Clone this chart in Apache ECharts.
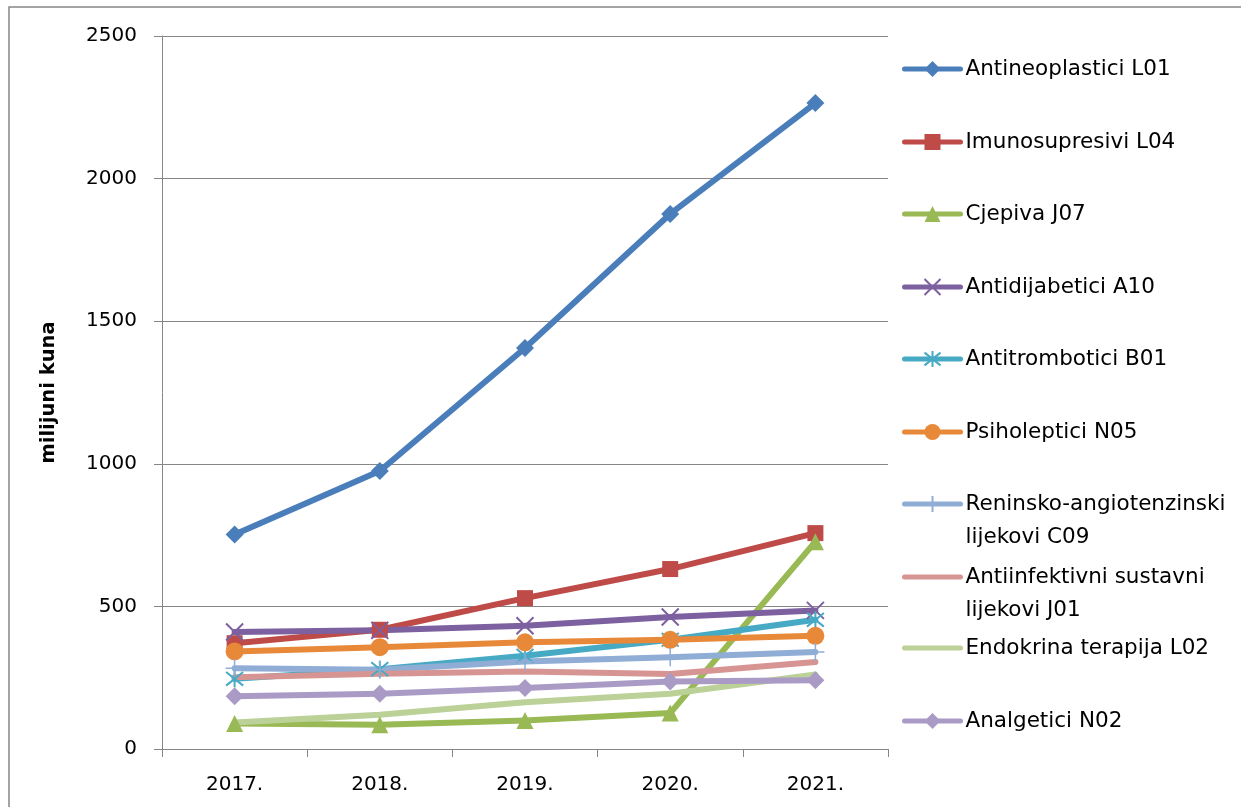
<!DOCTYPE html>
<html>
<head>
<meta charset="utf-8">
<script src="https://cdn.jsdelivr.net/npm/echarts@6/dist/echarts.min.js"></script>
<style>
  html, body { margin: 0; padding: 0; background: #fff; }
  #chart { width: 1241px; height: 807px; }
</style>
</head>
<body>
<div id="chart"></div>
<script>
// godine (x os)
const years = ['2017.', '2018.', '2019.', '2020.', '2021.'];

// vrijednosti u milijunima kuna, očitane s grafa
const antineoplastici = [752, 975, 1406, 1876, 2265];
const imunosupresivi = [371, 418, 529, 631, 757];
const cjepiva = [89, 85, 100, 126, 727];
const antidijabetici = [410, 416, 432, 463, 486];
const antitrombotici = [246, 280, 327, 383, 453];
const psiholeptici = [342, 357, 374, 383, 397];
const reninsko = [283, 278, 307, 322, 340];
const antiinfektivni = [252, 264, 272, 263, 305];
const endokrina = [93, 120, 164, 194, 261];
const analgetici = [185, 194, 214, 237, 241];

const yTicks = [0, 500, 1000, 1500, 2000, 2500];

const names = [
    'Antineoplastici L01',
    'Imunosupresivi L04',
    'Cjepiva J07',
    'Antidijabetici A10',
    'Antitrombotici B01',
    'Psiholeptici N05',
    'Reninsko-angiotenzinski lijekovi C09',
    'Antiinfektivni sustavni lijekovi J01',
    'Endokrina terapija L02',
    'Analgetici N02'
];
const values = [antineoplastici, imunosupresivi, cjepiva, antidijabetici, antitrombotici,
    psiholeptici, reninsko, antiinfektivni, endokrina, analgetici];

const colors = ['#4A7EBB', '#BE4B48', '#98B954', '#7D60A0', '#46AAC5',
    '#E8893A', '#90ADD6', '#D69593', '#BBD198', '#AA9BC6'];

const X_PATH = 'path://M0,0L10,10M10,0L0,10';
const STAR_PATH = 'path://M1,1L9,9M9,1L1,9M5,0L5,10';
const PLUS_PATH = 'path://M5,0L5,10M0,5L10,5';
const symbols = ['diamond', 'rect', 'triangle', X_PATH, STAR_PATH, 'circle', PLUS_PATH, 'none', 'none', 'diamond'];
const symbolSizes = [18, 16, 17, 17, 17, 18, 18, 0, 0, 18];
const strokeW = [0, 0, 0, 2, 2, 0, 1.5, 0, 0, 0];

const FONT = 'DejaVu Sans';

// legenda: svaka stavka zasebno, kao u Excelu
const legendCenters = [69, 142, 214, 287, 359, 432, 504, 577, 648, 721];
// prazni prvi red da prvi red teksta stoji uz ikonu
const legendText = {
    6: ' \nReninsko-angiotenzinski\nlijekovi C09',
    7: ' \nAntiinfektivni sustavni\nlijekovi J01'
};

const legends = names.map((n, i) => {
    const twoLines = legendText[i] != null;
    const noSymbol = symbols[i] === 'none';
    return {
        data: [n],
        left: 902,
        top: twoLines ? legendCenters[i] - 49.5 : legendCenters[i] - 12,
        padding: 0,
        itemWidth: 56,
        itemHeight: 20,
        selectedMode: false,
        formatter: twoLines ? legendText[i] : '{name}',
        lineStyle: { width: 5, cap: 'round' },
        itemStyle: noSymbol ? { opacity: 0 } : {},
        textStyle: {
            fontFamily: FONT,
            fontSize: 21.5,
            color: '#000',
            lineHeight: twoLines ? 33 : 24
        }
    };
});

const series = names.map((n, i) => ({
    name: n,
    type: 'line',
    data: values[i],
    symbol: symbols[i],
    symbolSize: symbolSizes[i],
    showSymbol: symbols[i] !== 'none',
    lineStyle: { color: colors[i], width: 6, cap: 'round', join: 'round' },
    itemStyle: {
        color: colors[i],
        borderColor: colors[i],
        borderWidth: strokeW[i]
    },
    emphasis: { disabled: true }
}));

const chart = echarts.init(document.getElementById('chart'));
chart.setOption({
    animation: false,
    backgroundColor: '#fff',
    graphic: [{
        type: 'rect',
        silent: true,
        shape: { x: 9, y: 7, width: 1300, height: 900 },
        style: { fill: 'transparent', stroke: '#868686', lineWidth: 1.5 }
    }],
    grid: { left: 162, top: 36, right: 353, bottom: 58 },
    legend: legends,
    xAxis: {
        type: 'category',
        data: years,
        boundaryGap: true,
        axisLine: { lineStyle: { color: '#868686', width: 1 } },
        axisTick: { show: true, length: 8, interval: 0, lineStyle: { color: '#868686' } },
        axisLabel: { fontFamily: FONT, fontSize: 20, color: '#000', margin: 26 }
    },
    yAxis: {
        type: 'value',
        min: yTicks[0],
        max: yTicks[yTicks.length - 1],
        interval: yTicks[1] - yTicks[0],
        name: 'milijuni kuna',
        nameLocation: 'middle',
        nameGap: 103,
        nameTextStyle: { fontFamily: FONT, fontSize: 19.5, fontWeight: 'bold', color: '#000' },
        axisLine: { show: true, lineStyle: { color: '#868686', width: 1 } },
        axisTick: { show: true, length: 8, lineStyle: { color: '#868686' } },
        splitLine: { lineStyle: { color: '#868686', width: 1 } },
        axisLabel: {
            fontFamily: FONT, fontSize: 20, color: '#000', margin: 25,
            formatter: v => String(v)
        }
    },
    series: series
});
</script>
</body>
</html>
